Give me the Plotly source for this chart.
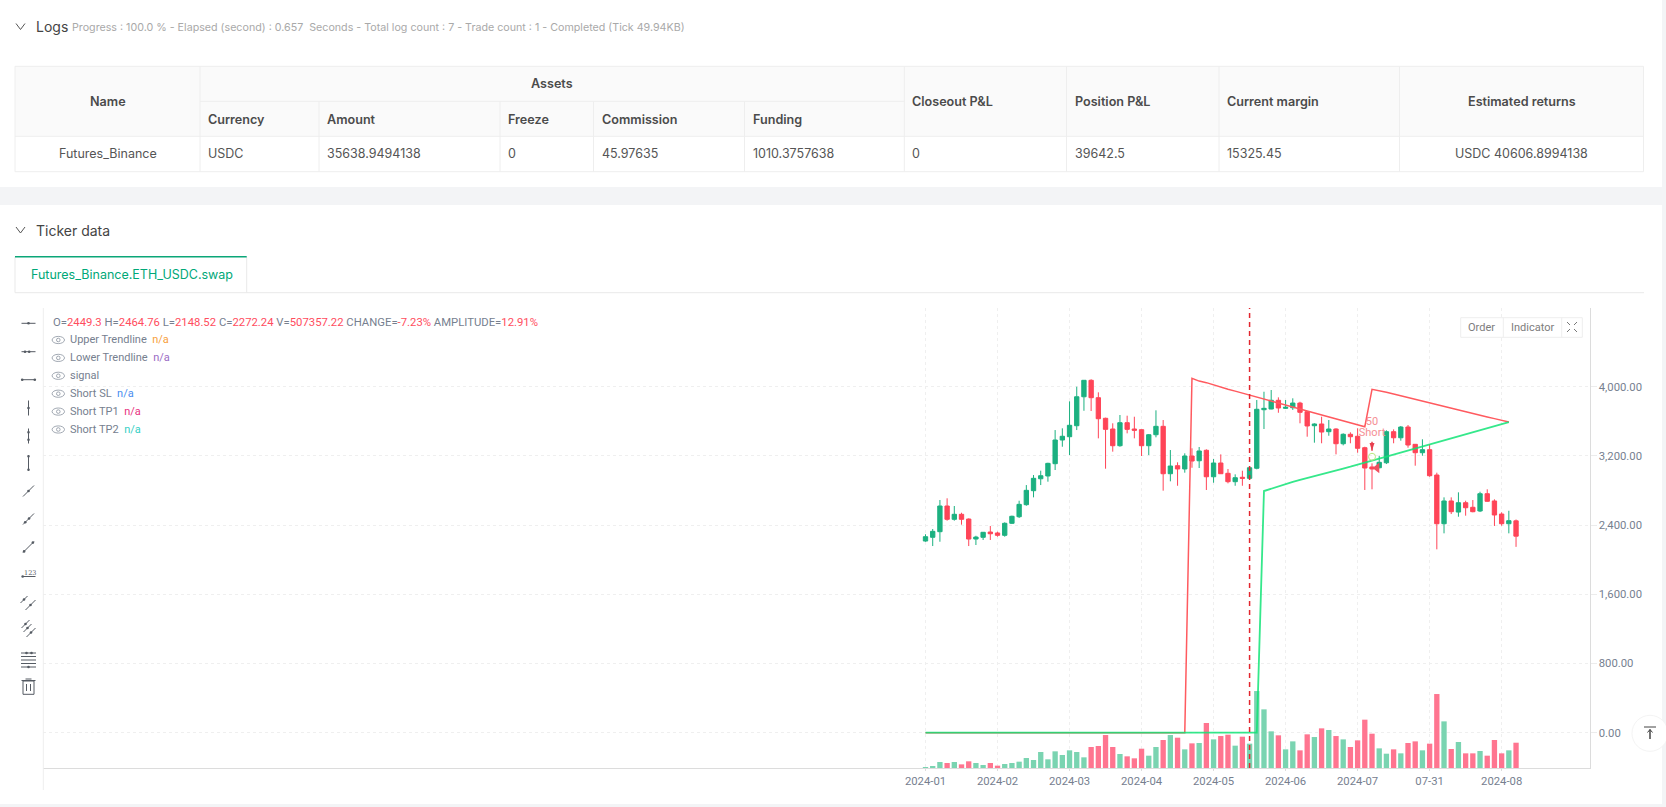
# %% Import libraries.
import plotly.graph_objects as go

# %% Chart data.
opens = [2216, 2259, 2324, 2621, 2467, 2525, 2470, 2239, 2259, 2320, 2309, 2282, 2421, 2497, 2636, 2798, 2936,
         2968, 3110, 3384, 3422, 3549, 3884, 4074, 3873, 3635, 3511, 3318, 3584, 3511, 3503, 3318, 3445, 3542,
         2994, 3087, 3049, 3199, 3144, 3265, 2959, 3118, 2999, 2902, 2953, 2941, 3057, 3734, 3742, 3843, 3750,
         3757, 3811, 3711, 3549, 3569, 3480, 3511, 3341, 3450, 3427, 3295, 3072, 3063, 3121, 3480, 3410, 3534,
         3334, 3237, 3272, 2979, 2416, 2679, 2551, 2659, 2606, 2563, 2763, 2679, 2528, 2416, 2449.3]
highs = [2294, 2355, 2690, 2710, 2621, 2543, 2478, 2277, 2320, 2390, 2324, 2432, 2509, 2682, 2863, 2979, 3029,
         3121, 3499, 3519, 3831, 4000, 4077, 4086, 3935, 3642, 3577, 3673, 3665, 3653, 3507, 3453, 3727, 3615,
         3268, 3126, 3230, 3288, 3303, 3276, 3164, 3218, 3049, 2987, 3029, 3075, 3846, 3942, 3962, 3877, 3846,
         3866, 3826, 3719, 3577, 3653, 3615, 3519, 3461, 3473, 3519, 3306, 3114, 3202, 3496, 3507, 3546, 3557,
         3337, 3392, 3334, 3006, 2721, 2721, 2779, 2682, 2690, 2786, 2814, 2698, 2548, 2566, 2464.76]
lows = [2208, 2158, 2208, 2451, 2451, 2405, 2158, 2170, 2228, 2228, 2266, 2266, 2413, 2482, 2624, 2721, 2863,
        2902, 3037, 3306, 3210, 3499, 3722, 3719, 3403, 3052, 3249, 3306, 3461, 3403, 3199, 3210, 3415, 2798,
        2906, 2855, 3006, 3063, 3060, 2806, 2890, 2991, 2883, 2855, 2855, 2941, 3045, 3511, 3739, 3699, 3742,
        3731, 3577, 3422, 3353, 3346, 3433, 3218, 3322, 3346, 3237, 2806, 2814, 3057, 3106, 3346, 3376, 3295,
        3087, 3202, 2959, 2120, 2305, 2528, 2497, 2509, 2548, 2551, 2670, 2390, 2393, 2305, 2148.52]
closes = [2266, 2328, 2621, 2467, 2525, 2467, 2239, 2262, 2317, 2300, 2282, 2421, 2502, 2640, 2802, 2941, 2971,
          3114, 3384, 3427, 3554, 3884, 4074, 3873, 3630, 3507, 3318, 3584, 3507, 3496, 3318, 3445, 3542, 2994,
          3083, 3049, 3199, 3141, 3257, 2959, 3118, 2994, 2902, 2948, 2941, 3063, 3739, 3750, 3843, 3754, 3762,
          3811, 3704, 3546, 3569, 3476, 3511, 3341, 3450, 3422, 3288, 3060, 3049, 3126, 3480, 3410, 3534, 3326,
          3237, 3272, 2971, 2416, 2679, 2555, 2659, 2601, 2555, 2763, 2675, 2517, 2416, 2451, 2272.24]
# Volume in thousands.
volumes = [20, 40, 120, 100, 120, 73, 134, 100, 60, 100, 47, 80, 100, 127, 200, 160, 321, 174, 334, 261, 354,
           321, 214, 421, 441, 661, 421, 281, 234, 194, 387, 247, 421, 561, 661, 608, 374, 494, 501, 902, 574,
           641, 668, 448, 628, 488, 1543, 1176, 735, 655, 374, 534, 354, 675, 621, 795, 762, 641, 574, 421, 554,
           969, 688, 394, 287, 374, 294, 501, 534, 354, 488, 1483, 935, 381, 521, 294, 294, 341, 247, 561, 294,
           354, 507]
upper_trend = [0] * 37 + [4097, 4065, 4047, 4020, 3993, 3971, 3949, 3927, 3904, 3882, 3860, 3838, 3814, 3790,
                          3767, 3743, 3719, 3697, 3674, 3651, 3628, 3605, 3583, 3560, 3537, 3970, 3955, 3935,
                          3915, 3894, 3873, 3852, 3831, 3810, 3790, 3770, 3749, 3728, 3707, 3688, 3669, 3650,
                          3631, 3611, 3592]
lower_trend = [0] * 47 + [2794, 2822, 2849, 2875, 2899, 2923, 2946, 2968, 2990, 3012, 3033, 3054, 3075, 3100,
                          3122, 3145, 3168, 3191, 3215, 3239, 3263, 3288, 3312, 3337, 3360, 3384, 3407, 3430,
                          3454, 3477, 3500, 3523, 3546, 3569, 3592]
trend_x = list(range(82))
x_tick_vals = [0, 10, 20, 30, 40, 50, 60, 70, 80]
x_tick_text = ["2024-01", "2024-02", "2024-03", "2024-04", "2024-05", "2024-06", "2024-07", "07-31", "2024-08"]
y_tick_vals = [0, 800, 1600, 2400, 3200, 4000]
signal_index = 45
short_index = 62

table_spans = ["Name", "Assets", "Closeout P&L", "Position P&L", "Current margin", "Estimated returns"]
table_sub = ["Currency", "Amount", "Freeze", "Commission", "Funding"]
table_row = ["Futures_Binance", "USDC", "35638.9494138", "0", "45.97635", "1010.3757638", "0", "39642.5",
             "15325.45", "USDC 40606.8994138"]
progress_text = ("Progress : 100.0 % - Elapsed (second) : 0.657\u00a0\u00a0Seconds - Total log count : 7 - "
                 "Trade count : 1 - Completed (Tick 49.94KB)")
legend_rows = [("Upper Trendline", "#f7a03c"), ("Lower Trendline", "#9a6cc4"), ("signal", None),
               ("Short SL", "#4a8df0"), ("Short TP1", "#e8327f"), ("Short TP2", "#35cfc4")]
ohlc_text = [("O=", "2449.3"), ("H=", "2464.76"), ("L=", "2148.52"), ("C=", "2272.24"), ("V=", "507357.22"),
             ("CHANGE=", "-7.23%"), ("AMPLITUDE=", "12.91%")]

# %% Page constants.
W, H = 1666, 807
UI_FONT = "Inter"
CHART_FONT = "Roboto"
UP, DOWN = "#1cb180", "#ff4558"
GRAY_TEXT = "#76808f"
LINE = "#eeeeee"
ICON = "#555b63"
shapes = []
notes = []


# %% Define functions.
def px(x):
    return x / W


def py(y):
    return 1 - y / H


def seg(x0, y0, x1, y1, color=LINE, width=1, dash=None):
    shapes.append(dict(type="line", xref="paper", yref="paper", x0=px(x0), y0=py(y0), x1=px(x1), y1=py(y1),
                       line=dict(color=color, width=width, dash=dash)))


def box(x0, y0, x1, y1, fill, color=None):
    shapes.append(dict(type="rect", xref="paper", yref="paper", x0=px(x0), y0=py(y0), x1=px(x1), y1=py(y1),
                       fillcolor=fill, line=dict(color=color, width=1 if color else 0), layer="below"))


def disc(x, y, rx, ry=None, fill=None, color=ICON, width=1, layer="above"):
    ry = rx if ry is None else ry
    shapes.append(dict(type="circle", xref="paper", yref="paper", x0=px(x - rx), y0=py(y - ry), x1=px(x + rx),
                       y1=py(y + ry), fillcolor=fill, layer=layer,
                       line=dict(color=color, width=width)))


def text(x, y, s, size=12.5, color="#555555", anchor="left", weight=400, family=UI_FONT):
    # Annotations sit 1px in from their anchor on the left.
    x = x - 1 if anchor == "left" else x
    notes.append(dict(x=px(x), y=py(y), xref="paper", yref="paper", text=s, showarrow=False, xanchor=anchor,
                      yanchor="middle", borderpad=0, font=dict(family=family, size=size, color=color,
                                                               weight=weight)))


def tool_line(x0, y0, x1, y1, dots):
    """Toolbar glyph: a line with small dots at the given fractions."""
    seg(x0, y0, x1, y1, ICON, 1)
    for f in dots:
        disc(x0 + (x1 - x0) * f, y0 + (y1 - y0) * f, 1.3, fill=ICON, width=0)


def chevron(x, y):
    seg(x - 4.5, y - 3, x, y + 3, "#555555", 1)
    seg(x, y + 3, x + 4.5, y - 3, "#555555", 1)


def page_chrome():
    # Gray bands between the white panels.
    box(0, 187, W, 205, "#f3f4f6")
    box(1662, 0, W, H, "#f3f4f6")
    box(0, 804, W, H, "#f3f4f6")

    chevron(20.5, 26.5)
    text(36, 27, "Logs", 14, "#444444")
    text(72, 27.5, progress_text, 10.7, "#a9a9a9")
    chevron(20.5, 230)
    text(36, 230, "Ticker data", 14, "#444444")

    # Table cells.
    box(15, 66.3, 1643.5, 136.3, "#fafafa")
    cols = [15, 200, 319, 500, 593.5, 744.5, 904.3, 1066.5, 1219, 1399.5, 1643.5]
    for x in [15, 200, 904.3, 1066.5, 1219, 1399.5, 1643.5]:
        seg(x, 66.3, x, 171.7)
    for x in cols[2:6]:
        seg(x, 101.3, x, 171.7)
    seg(15, 66.3, 1643.5, 66.3)
    seg(200, 101.3, 904.3, 101.3)
    seg(15, 136.3, 1643.5, 136.3)
    seg(15, 171.7, 1643.5, 171.7)

    head = dict(size=12.6, color="#4b4b4b", weight=600)
    text((15 + 200) / 2, 101.8, table_spans[0], anchor="center", **head)
    text((200 + 904.3) / 2, 83.8, table_spans[1], anchor="center", **head)
    for i, label in enumerate(table_spans[2:5]):
        text(cols[6 + i] + 8, 101.8, label, **head)
    text((1399.5 + 1643.5) / 2, 101.8, table_spans[5], anchor="center", **head)
    for i, label in enumerate(table_sub):
        text(cols[1 + i] + 8, 119, label, **head)
    text((15 + 200) / 2, 153.8, table_row[0], anchor="center")
    for i, value in enumerate(table_row[1:9]):
        text(cols[1 + i] + 8, 153.8, value)
    text((1399.5 + 1643.5) / 2, 153.8, table_row[9], anchor="center")

    # Tab and chart frame.
    seg(15, 292.7, 1644, 292.7, "#e9e9e9")
    seg(15, 256.7, 15, 292.7, "#e9e9e9")
    seg(246.7, 256.7, 246.7, 292.7, "#e9e9e9")
    seg(15, 256.7, 246.7, 256.7, "#0ba678", 1.5)
    text(30.5, 274, "Futures_Binance.ETH_USDC.swap", 12.5, "#00a878")
    seg(43.3, 308, 43.3, 790, "#eeeeee")


def toolbar():
    cx = 28.5
    for y, dots in [(323.3, [0.5]), (351.7, [0.25, 0.55]), (379.7, [0.05, 0.95])]:
        tool_line(cx - 7, y, cx + 7, y, dots)
    for y, dots in [(408, [0.5]), (436, [0.25, 0.75]), (463, [0.05, 0.95])]:
        tool_line(cx, y - 7.5, cx, y + 7.5, dots)
    for y, dots in [(491, [0.5]), (519, [0.2, 0.55]), (547, [0.1, 0.9])]:
        tool_line(cx - 5.5, y + 5.5, cx + 5.5, y - 5.5, dots)
    # Price line with its label.
    tool_line(cx - 6.5, 576.5, cx + 7, 576.5, [0.05])
    text(cx + 1, 572.5, "123", 6.5, ICON, "center", family="DejaVu Serif")
    # Parallel channels.
    tool_line(cx - 8, 603, cx - 1, 596, [0.5])
    tool_line(cx - 3, 610, cx + 7, 600, [0.5])
    tool_line(cx - 7, 628, cx + 1, 620, [0.5])
    tool_line(cx - 5, 632, cx + 3, 624, [0.5])
    tool_line(cx - 2, 637, cx + 7, 628, [0.5])
    # Horizontal stack.
    for y in [653, 656.5, 660, 663.5, 667]:
        seg(cx - 7.5, y, cx + 7.5, y, ICON, 1)
    disc(cx - 2, 653, 1.3, fill=ICON, width=0)
    disc(cx + 3, 653, 1.3, fill=ICON, width=0)
    disc(cx, 667, 1.3, fill=ICON, width=0)
    # Trash can.
    seg(cx - 7, 680.5, cx + 7, 680.5, ICON, 1)
    seg(cx - 3, 679, cx + 3, 679, ICON, 1)
    shapes.append(dict(type="rect", xref="paper", yref="paper", x0=px(cx - 5.5), x1=px(cx + 5.5), y0=py(681),
                       y1=py(694.3), line=dict(color=ICON, width=1)))
    seg(cx - 2, 684, cx - 2, 691, ICON, 1)
    seg(cx + 2, 684, cx + 2, 691, ICON, 1)


def legend_block():
    parts = []
    for label, value in ohlc_text:
        parts.append(f'<span style="color:{GRAY_TEXT}">{label}</span><span style="color:#ff4d5e">{value}</span>')
    text(52.7, 322, " ".join(parts), 11.3, GRAY_TEXT, family=CHART_FONT)
    for i, (label, color) in enumerate(legend_rows):
        y = 340 + i * 17.9
        s = label if color is None else f'{label}\u00a0\u00a0<span style="color:{color}">n/a</span>'
        text(70, y, s, 11, GRAY_TEXT, family=CHART_FONT)
        disc(58.3, y, 6.2, 3.6, color="#8a93a0", width=0.8)
        disc(58.3, y, 1.8, color="#8a93a0", width=0.8)


def chart_buttons():
    shapes.append(dict(type="rect", xref="paper", yref="paper", x0=px(1460.7), x1=px(1582.3), y0=py(317.7),
                       y1=py(337.3), fillcolor="white", line=dict(color="#eeeeee", width=1)))
    seg(1503.3, 317.7, 1503.3, 337.3)
    seg(1561.7, 317.7, 1561.7, 337.3)
    text(1481.7, 327.5, "Order", 11, "#7d7d7d", "center", family=CHART_FONT)
    text(1532.3, 327.5, "Indicator", 11, "#7d7d7d", "center", family=CHART_FONT)
    for sx, sy in [(-1, -1), (1, -1), (-1, 1), (1, 1)]:
        seg(1572 + sx * 5, 327 + sy * 5, 1572 + sx * 2, 327 + sy * 2, "#777777", 1)
    # Back-to-top button.
    disc(1650, 733.3, 18, fill="white", color="#f4f4f4", width=1)
    seg(1644, 727, 1656, 727, "#444444", 1)
    seg(1650, 729.5, 1650, 739, "#444444", 1.5)
    seg(1647.5, 732.5, 1650, 729.5, "#444444", 1)
    seg(1652.5, 732.5, 1650, 729.5, "#444444", 1)


def build_figure():
    fig = go.Figure()
    index = list(range(len(closes)))
    bar_colors = ["#7ad4b1" if c >= o else "#ff7590" for o, c in zip(opens, closes)]
    fig.add_trace(go.Bar(x=index, y=volumes, marker=dict(color=bar_colors, line_width=0), yaxis="y"))
    fig.add_trace(go.Candlestick(
        x=index, open=opens, high=highs, low=lows, close=closes, yaxis="y2", whiskerwidth=0,
        increasing=dict(line=dict(color=UP, width=1), fillcolor=UP),
        decreasing=dict(line=dict(color=DOWN, width=1), fillcolor=DOWN),
    ))
    fig.add_trace(go.Scatter(x=trend_x, y=upper_trend, mode="lines", yaxis="y2",
                             line=dict(color="#ff5a5f", width=1.5)))
    fig.add_trace(go.Scatter(x=trend_x, y=lower_trend, mode="lines", yaxis="y2", opacity=0.85,
                             line=dict(color="#12e477", width=1.8)))
    # Short entry marker.
    fig.add_trace(go.Scatter(x=[short_index, short_index], y=[3592, 3465], text=["50", "Short"], mode="text",
                             yaxis="y2", textfont=dict(family=CHART_FONT, size=11, color="#f58f95")))
    fig.add_trace(go.Scatter(x=[short_index, short_index], y=[3363, 3260], mode="lines", yaxis="y2",
                             line=dict(color="#e8404f", width=1.5)))
    fig.add_trace(go.Scatter(x=[short_index], y=[3260], mode="markers", yaxis="y2",
                             marker=dict(symbol="arrow", angle=180, size=8, color="#e8404f")))
    fig.add_trace(go.Scatter(x=[short_index], y=[3190], mode="markers", yaxis="y2",
                             marker=dict(symbol="circle-open", size=7, line=dict(color="#f58f95", width=1))))
    fig.add_trace(go.Scatter(x=[short_index + 0.7], y=[3060], mode="markers", yaxis="y2",
                             marker=dict(symbol="triangle-left", size=9, color="#f0505f")))

    page_chrome()
    toolbar()
    legend_block()
    chart_buttons()
    shapes.append(dict(type="line", xref="x", yref="paper", x0=signal_index, x1=signal_index, y0=py(768),
                       y1=py(308), line=dict(color="#e2262e", width=1.5, dash="5px,4px")))

    grid = dict(showgrid=True, gridcolor="#efefef", griddash="3px,3px", gridwidth=1)
    fig.update_layout(
        width=W, height=H, margin=dict(l=0, r=0, t=0, b=0, pad=0), showlegend=False,
        paper_bgcolor="white", plot_bgcolor="rgba(0,0,0,0)", bargap=0.26, boxgap=0.4, boxgroupgap=0,
        hovermode=False, shapes=shapes, annotations=notes,
        font=dict(family=CHART_FONT, size=11.3, color=GRAY_TEXT),
        xaxis=dict(domain=[px(43.3), px(1589.5)], range=[-122.5, 92.2], tickmode="array",
                   tickvals=x_tick_vals, ticktext=x_tick_text, ticks="outside", ticklen=2, tickcolor="#dcdcdc",
                   showline=True, linecolor="#dcdcdc", linewidth=1, zeroline=False, rangeslider=dict(visible=False),
                   anchor="y", **grid),
        yaxis=dict(domain=[py(768), py(308)], range=[0, 9223], visible=False, showgrid=False, zeroline=False),
        yaxis2=dict(domain=[py(768), py(308)], range=[-408, 4910], overlaying="y", side="right", anchor="x",
                    tickmode="array", tickvals=y_tick_vals, tickformat=",.2f", ticks="outside", ticklen=6,
                    tickcolor="#ececec", showline=True, linecolor="#dcdcdc", linewidth=1, zeroline=False, **grid),
    )
    return fig


# %% Execute script.
fig = build_figure()
fig.write_html("out.html", config={"displayModeBar": False}, post_script="document.body.style.margin='0';")
